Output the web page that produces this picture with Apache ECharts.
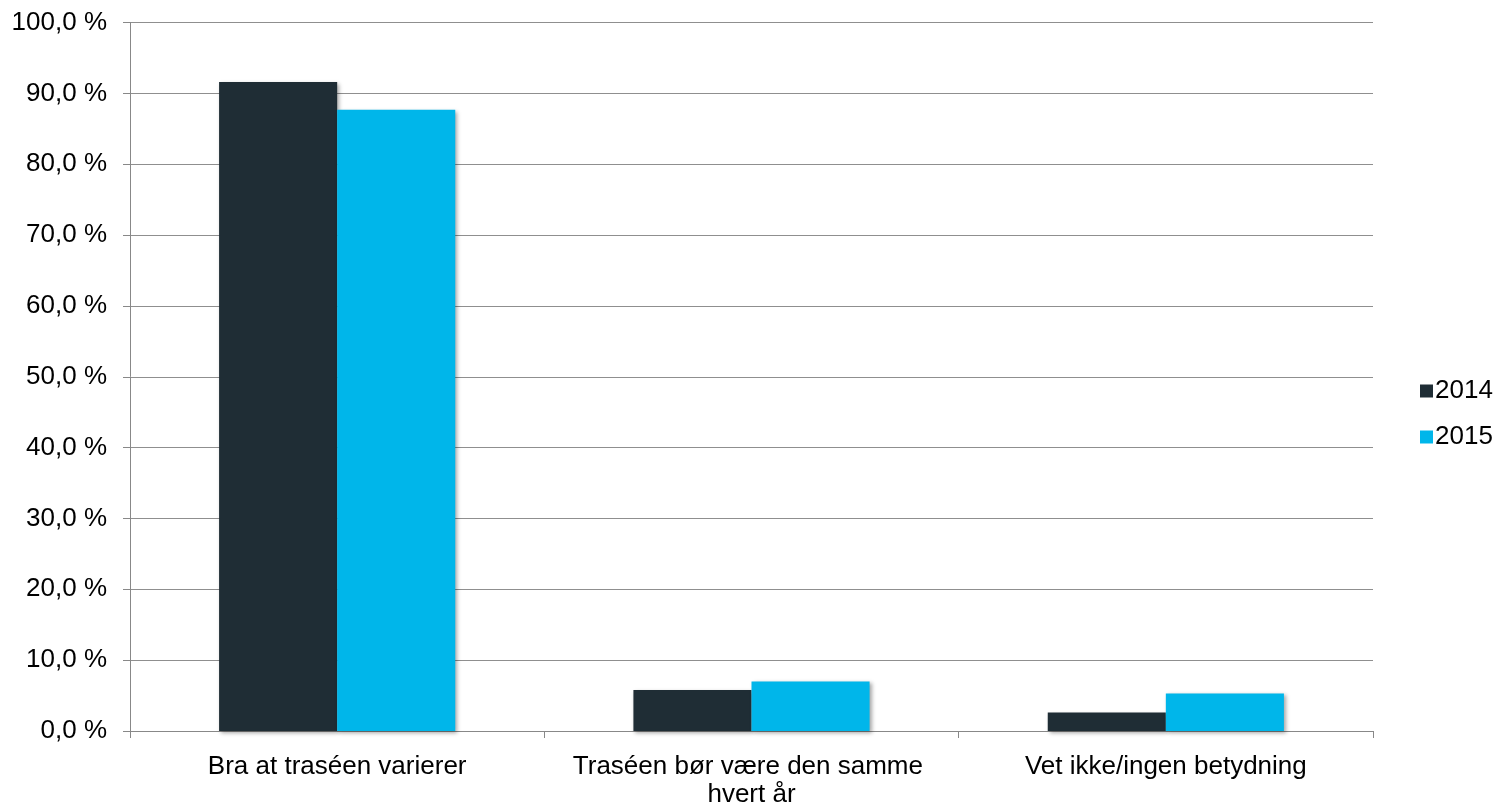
<!DOCTYPE html>
<html>
<head>
<meta charset="utf-8">
<script src="https://cdn.jsdelivr.net/npm/echarts@6/dist/echarts.min.js"></script>
<style>html,body{margin:0;padding:0;background:#fff}#c{width:1500px;height:805px}</style>
</head>
<body>
<div id="c"></div>
<script>
const categories = ['Bra at traséen varierer', 'Traséen bør være den samme hvert år', 'Vet ikke/ingen betydning'];
const seriesNames = ['2014', '2015'];
const values2014 = [91.6, 5.8, 2.6];
const values2015 = [87.7, 7.0, 5.3];
const colors = ['#1F2D35', '#00B6EA'];

const chart = echarts.init(document.getElementById('c'), null, {renderer: 'canvas'});
const font = '"Liberation Sans", Arial, sans-serif';
const barStyle = (c) => ({
  color: c,
  shadowColor: 'rgba(0,0,0,0.35)',
  shadowBlur: 4,
  shadowOffsetX: 2,
  shadowOffsetY: 2
});
chart.setOption({
  animation: false,
  textStyle: {fontFamily: font},
  grid: {left: 130, right: 127, top: 22.5, bottom: 74, containLabel: false, outerBoundsMode: 'none'},
  legend: {
    orient: 'vertical',
    left: 1415,
    top: 373,
    itemWidth: 13,
    itemHeight: 13,
    itemGap: 20,
    icon: 'rect',
    textStyle: {fontSize: 26, color: '#000', fontFamily: font, lineHeight: 26, padding: [0,0,0,-3]},
    data: seriesNames
  },
  xAxis: {
    type: 'category',
    data: categories,
    axisLine: {lineStyle: {color: '#888', width: 1}},
    axisTick: {show: true, length: 7, lineStyle: {color: '#888'}},
    axisLabel: {
      fontSize: 26, color: '#000', fontFamily: font, margin: 22,
      width: 395, overflow: 'break', lineHeight: 28, interval: 0
    }
  },
  yAxis: {
    type: 'value',
    min: 0, max: 100, interval: 10,
    axisLine: {show: true, lineStyle: {color: '#888', width: 1}},
    axisTick: {show: true, length: 7, lineStyle: {color: '#888'}},
    splitLine: {lineStyle: {color: '#8f8f8f', width: 1.2}},
    axisLabel: {
      fontSize: 26, color: '#000', fontFamily: font, margin: 23,
      formatter: v => v.toFixed(1).replace('.', ',') + ' %'
    }
  },
  series: [
    {name: seriesNames[0], type: 'bar', data: values2014, itemStyle: barStyle(colors[0]), barGap: '0%', barCategoryGap: '43%'},
    {name: seriesNames[1], type: 'bar', data: values2015, itemStyle: barStyle(colors[1]), barGap: '0%', barCategoryGap: '43%'}
  ]
});
</script>
</body>
</html>
